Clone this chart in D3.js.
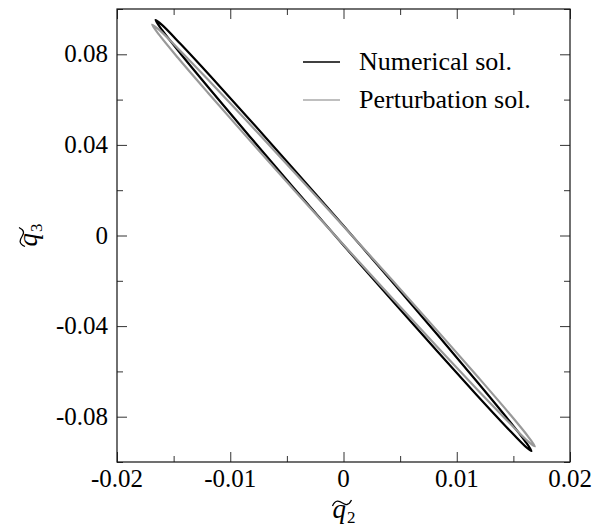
<!DOCTYPE html>
<html>
<head>
<meta charset="utf-8">
<script src="https://cdn.jsdelivr.net/npm/d3@7"></script>
<style>
  body { margin: 0; background: #fff; }
  text { font-family: "Liberation Serif", "Times New Roman", serif; }
</style>
</head>
<body>
<div id="chart"></div>
<script>
// orbits (q2, q3 pairs going round each loop)
var numQ2 = [0.0166, 0.01603, 0.01438, 0.01174, 0.0083, 0.0043, 0, -0.0043, -0.0083, -0.01174, -0.01438, -0.01603,
             -0.0166, -0.01603, -0.01438, -0.01174, -0.0083, -0.0043, 0, 0.0043, 0.0083, 0.01174, 0.01438, 0.01603];
var numQ3 = [-0.0951, -0.09297, -0.0845, -0.07028, -0.05126, -0.02874, -0.00428, 0.02048, 0.04384, 0.06422, 0.08022, 0.09075,
             0.0951, 0.09297, 0.0845, 0.07028, 0.05126, 0.02874, 0.00428, -0.02048, -0.04384, -0.06422, -0.08022, -0.09075];
var pertQ2 = [0.0169, 0.01632, 0.01464, 0.01195, 0.00845, 0.00437, 0, -0.00437, -0.00845, -0.01195, -0.01464, -0.01632,
              -0.0169, -0.01632, -0.01464, -0.01195, -0.00845, -0.00437, 0, 0.00437, 0.00845, 0.01195, 0.01464, 0.01632];
var pertQ3 = [-0.0931, -0.09099, -0.08269, -0.06874, -0.05011, -0.02806, -0.00411, 0.02012, 0.04299, 0.06292, 0.07857, 0.08887,
              0.0931, 0.09099, 0.08269, 0.06874, 0.05011, 0.02806, 0.00411, -0.02012, -0.04299, -0.06292, -0.07857, -0.08887];

var seriesNames = ["Numerical sol.", "Perturbation sol."];
var xTicks = [-0.02, -0.01, 0, 0.01, 0.02];
var xTickLabels = ["-0.02", "-0.01", "0", "0.01", "0.02"];
var xMinor = [-0.015, -0.005, 0.005, 0.015];
var yTicks = [-0.08, -0.04, 0, 0.04, 0.08];
var yTickLabels = ["-0.08", "-0.04", "0", "0.04", "0.08"];
var yMinor = [-0.1, -0.06, -0.02, 0.02, 0.06, 0.1];

var margin = { top: 9, left: 117, right: 28, bottom: 69 };
var W = 598, H = 531;
var width = W - margin.left - margin.right;
var height = H - margin.top - margin.bottom;

var svg = d3.select("#chart").append("svg")
    .attr("width", W)
    .attr("height", H);
var g = svg.append("g")
    .attr("transform", `translate(${margin.left},${margin.top})`);

var x = d3.scaleLinear().domain([-0.02, 0.02]).range([0, width]);
var y = d3.scaleLinear().domain([-0.1, 0.1]).range([height, 0]);

// ticks pointing inward on all four sides
function styleAxis(sel) {
    sel.select(".domain").remove();
    sel.selectAll(".tick line").attr("stroke", "#333").attr("stroke-width", 1);
    sel.selectAll("text").remove();
}
g.append("g").attr("transform", `translate(0,${height})`)
    .call(d3.axisBottom(x).tickValues(xTicks).tickSize(-10)).call(styleAxis);
g.append("g").attr("transform", `translate(0,${height})`)
    .call(d3.axisBottom(x).tickValues(xMinor).tickSize(-6)).call(styleAxis);
g.append("g")
    .call(d3.axisTop(x).tickValues(xTicks).tickSize(-10)).call(styleAxis);
g.append("g")
    .call(d3.axisTop(x).tickValues(xMinor).tickSize(-6)).call(styleAxis);
g.append("g")
    .call(d3.axisLeft(y).tickValues(yTicks).tickSize(-10)).call(styleAxis);
g.append("g")
    .call(d3.axisLeft(y).tickValues(yMinor).tickSize(-6)).call(styleAxis);
g.append("g").attr("transform", `translate(${width},0)`)
    .call(d3.axisRight(y).tickValues(yTicks).tickSize(-10)).call(styleAxis);
g.append("g").attr("transform", `translate(${width},0)`)
    .call(d3.axisRight(y).tickValues(yMinor).tickSize(-6)).call(styleAxis);

g.append("rect")
    .attr("width", width).attr("height", height)
    .attr("fill", "none").attr("stroke", "#111").attr("stroke-width", 1.2);

// tick labels
g.selectAll(".xlab").data(xTicks).join("text")
    .attr("x", d => x(d)).attr("y", height + 25)
    .attr("text-anchor", "middle")
    .attr("font-size", 25)
    .text((d, i) => xTickLabels[i]);
g.selectAll(".ylab").data(yTicks).join("text")
    .attr("x", -9).attr("y", d => y(d) + 8)
    .attr("text-anchor", "end")
    .attr("font-size", 25)
    .text((d, i) => yTickLabels[i]);

// orbits
var line = d3.line()
    .x(d => x(d[0])).y(d => y(d[1]))
    .curve(d3.curveCatmullRomClosed);
var numData = numQ2.map((v, i) => [v, numQ3[i]]);
var pertData = pertQ2.map((v, i) => [v, pertQ3[i]]);

g.append("path").datum(numData)
    .attr("d", line).attr("fill", "none")
    .attr("stroke", "#000").attr("stroke-width", 2.2);
g.append("path").datum(pertData)
    .attr("d", line).attr("fill", "none")
    .attr("stroke", "#999").attr("stroke-width", 2.2);

// legend
var legColors = ["#000", "#aaa"];
var leg = g.selectAll(".leg").data(seriesNames).join("g")
    .attr("transform", (d, i) => `translate(186,${53 + i * 38})`);
leg.append("line")
    .attr("x1", 0).attr("x2", 37)
    .attr("stroke", (d, i) => legColors[i]).attr("stroke-width", 1.5);
leg.append("text")
    .attr("x", 56).attr("y", 8)
    .attr("font-size", 26)
    .text(d => d);

// axis titles: italic q with a subscript, wide tilde drawn above
function axisTitle(sel, sub) {
    var t = sel.append("text")
        .attr("x", -11).attr("y", 0)
        .attr("font-size", 27);
    t.append("tspan").attr("font-style", "italic").text("q");
    t.append("tspan").attr("font-size", 17).attr("dx", 1).attr("dy", 5).text(sub);
    sel.append("path")
        .attr("d", "M-11,-12 C-8,-19 -4,-17 -1,-15 C2,-13 5,-12 8,-18")
        .attr("fill", "none").attr("stroke", "#000").attr("stroke-width", 1.3);
}
svg.append("g")
    .attr("transform", `translate(${margin.left + x(0)},518)`)
    .call(axisTitle, "2");
svg.append("g")
    .attr("transform", `translate(37,${margin.top + y(0)}) rotate(-90)`)
    .call(axisTitle, "3");
</script>
</body>
</html>
